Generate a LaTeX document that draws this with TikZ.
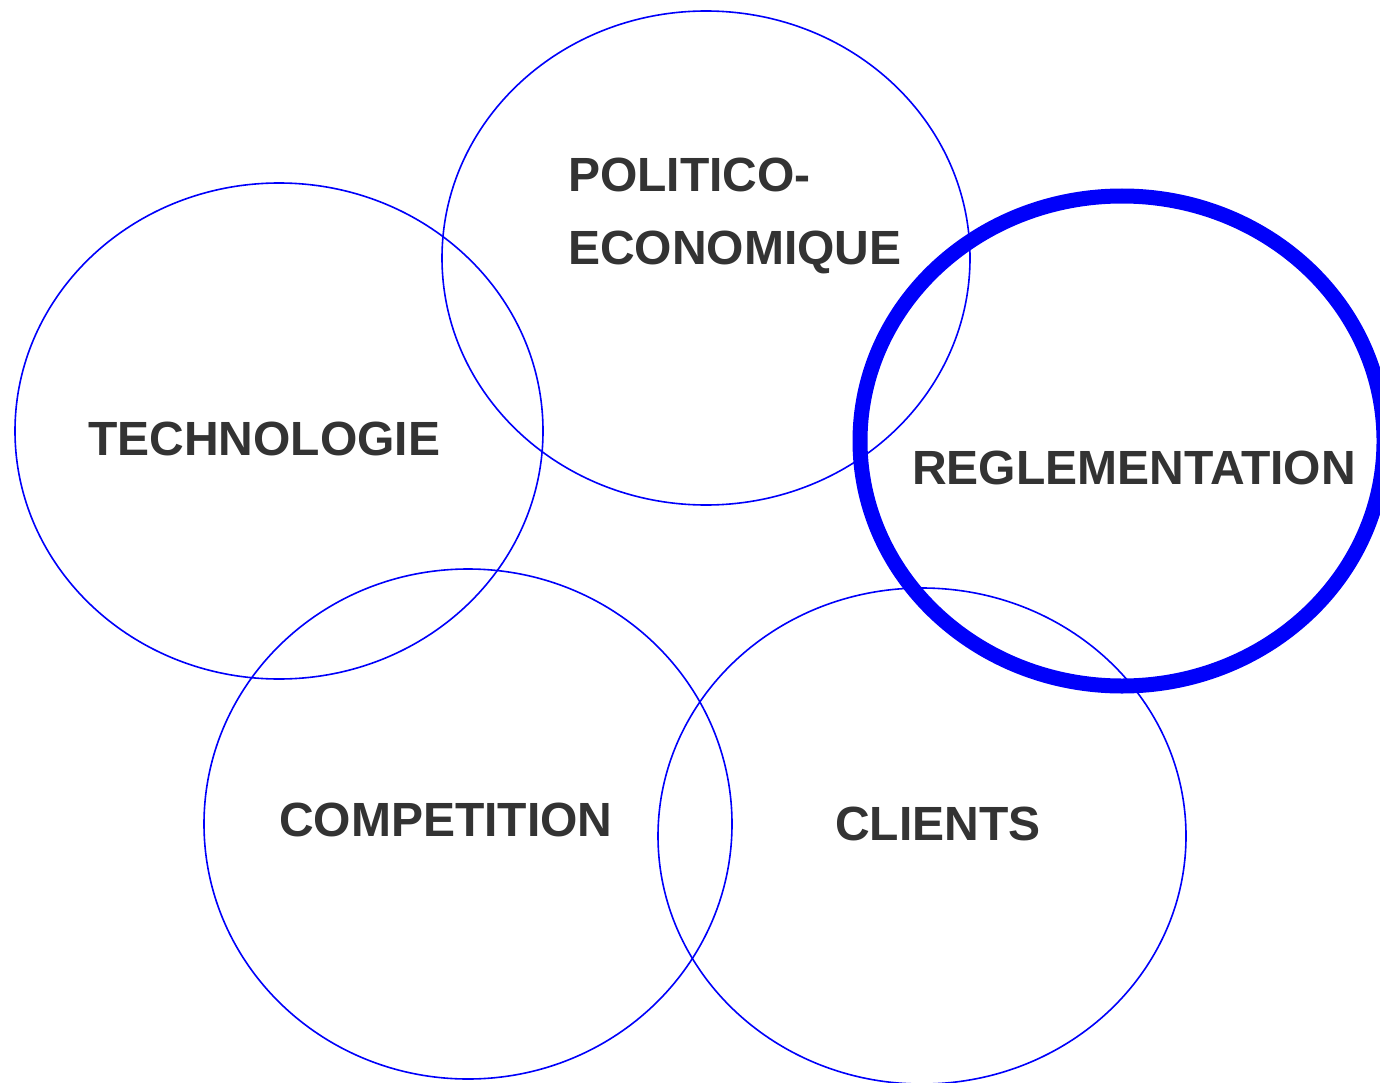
\documentclass[tikz,border=0pt]{standalone}
\usepackage{fontspec}
\setmainfont{Liberation Sans}
\definecolor{ringblue}{RGB}{0,0,250}
\definecolor{labelgray}{RGB}{51,51,51}
\begin{document}
\begin{tikzpicture}[x=1pt,y=-1pt,
  ring/.style={draw=ringblue,line width=1.6pt},
  thickring/.style={draw=ringblue,line width=15pt},
  lbl/.style={anchor=base west,inner sep=0pt,text=labelgray,font=\fontsize{48}{58}\selectfont\bfseries}]
\useasboundingbox[fill=white] (0,0) rectangle (1380,1083);
\begin{scope}
\clip (0,0) rectangle (1380,1083);
\draw[ring] (706,258) ellipse [x radius=264,y radius=247];
\draw[ring] (279,431) ellipse [x radius=264,y radius=248];
\draw[thickring] (1122,441) ellipse [x radius=262,y radius=245];
\draw[ring] (468,824) ellipse [x radius=264,y radius=255];
\draw[ring] (922,836) ellipse [x radius=264,y radius=248];
\end{scope}
\node[lbl] (pol1) at (568,192) {POLITICO-};
\node[lbl] (pol2) at (568,265) {ECONOMIQUE};
\node[lbl] (tech) at (88,455) {TECHNOLOGIE};
\node[lbl] (regl) at (912,484) {REGLEMENTATION};
\node[lbl] (comp) at (279,836) {COMPETITION};
\node[lbl] (cli) at (835,840) {CLIENTS};
\end{tikzpicture}
\end{document}
